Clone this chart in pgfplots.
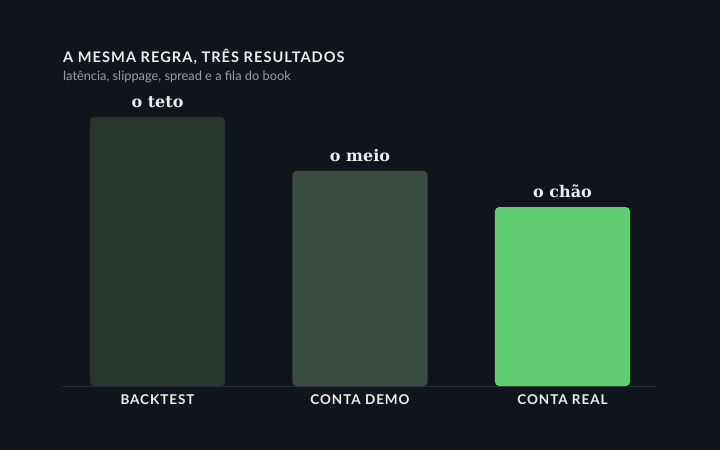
\documentclass[border=0pt]{standalone}
\usepackage{fontspec}
\usepackage{pgfplots}
\pgfplotsset{compat=1.18}
\setmainfont{Lato}
\newfontfamily\capsfont[LetterSpace=7]{Lato}
\newfontfamily\subfont{Lato}
\newfontfamily\serifbold{DejaVu Serif}
\definecolor{bg}{HTML}{10151C}
\definecolor{barA}{HTML}{28362C}
\definecolor{barB}{HTML}{3A4B3F}
\definecolor{barC}{HTML}{63CD73}
\definecolor{baseln}{HTML}{262D35}
\definecolor{txt}{HTML}{EDEDED}
\definecolor{subtxt}{HTML}{9A9FA5}
\begin{document}
\begin{tikzpicture}[x=1pt,y=1pt]
\fill[bg] (0,0) rectangle (720,450);
\node[anchor=base west,inner sep=0,text=txt,font=\capsfont\bfseries\fontsize{14.6}{16}\selectfont] at (63,387) {A MESMA REGRA, TRÊS RESULTADOS};
\node[anchor=base west,inner sep=0,text=subtxt,font=\subfont\fontsize{12.8}{14}\selectfont] at (63,369) {latência, slippage, spread e a fila do book};
\begin{axis}[
    at={(62pt,64pt)}, anchor=south west,
    scale only axis,
    width=595pt, height=300pt,
    xmin=-0.4716, xmax=2.4667,
    ymin=0, ymax=111.52,
    hide y axis,
    axis x line*=bottom,
    x axis line style={color=baseln, line width=1pt, -},
    xtick={0,1,2},
    xticklabels={BACKTEST, CONTA DEMO, CONTA REAL},
    major tick length=0pt,
    xticklabel style={text=txt, font=\capsfont\bfseries\fontsize{13.5}{15}\selectfont, yshift=-5pt},
    ybar, bar width=135pt, bar shift=0pt,
    nodes near coords style={text=txt, font=\serifbold\bfseries\fontsize{16}{18}\selectfont, anchor=south, yshift=6pt},
]
\addplot[fill=barA, draw=none, rounded corners=4pt, nodes near coords={o teto}] coordinates {(0,100)};
\addplot[fill=barB, draw=none, rounded corners=4pt, nodes near coords={o meio}] coordinates {(1,80)};
\addplot[fill=barC, draw=none, rounded corners=4pt, nodes near coords={o chão}] coordinates {(2,66.5)};
\end{axis}
\end{tikzpicture}
\end{document}
